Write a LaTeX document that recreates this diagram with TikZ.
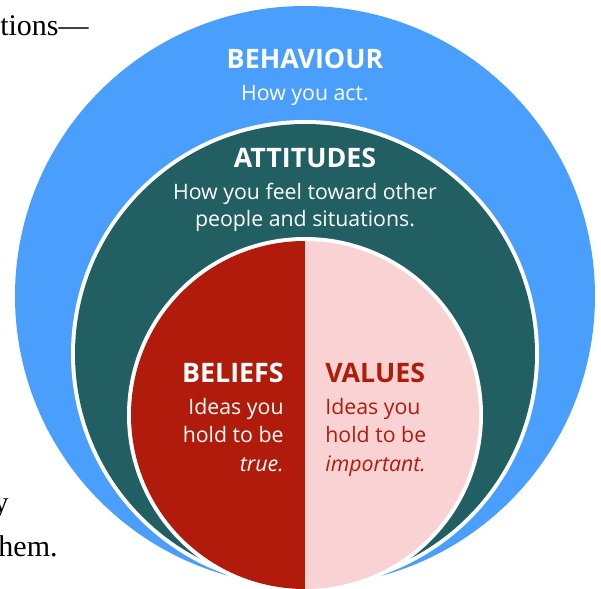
\documentclass[tikz,border=0pt]{standalone}
\usepackage{fontspec}
\usepackage{tkz-euclide}
\setmainfont{Open Sans}
\newfontfamily\bookfont[Ligatures=TeX]{Liberation Serif}
\definecolor{behavblue}{HTML}{4A9EFC}
\definecolor{attteal}{HTML}{215F63}
\definecolor{belred}{HTML}{B01B0B}
\definecolor{valpink}{HTML}{F9D3D3}
\begin{document}
\begin{tikzpicture}[x=0.5pt,y=0.5pt,
    head/.style={font=\bfseries\fontsize{13.4}{16}\selectfont,inner sep=0pt},
    body/.style={font=\fontsize{10.65}{14}\selectfont,inner sep=0pt},
    book/.style={font=\bookfont\fontsize{15}{18}\selectfont,inner sep=0pt,anchor=base east}]
                \useasboundingbox (0,0) rectangle (601,589);
                \clip (0,0) rectangle (601,589);
                \tkzDefPoints{305/293/B,305/235/A,305/174/I}
                % the three rings
                \fill[behavblue] (B) circle (290);
                \fill[white] (A) circle (234);
                \fill[attteal] (A) circle (230);
                \fill[white] (I) circle (178);
                \fill[belred] (I) ++(0,-174) arc (270:90:174) -- cycle;
                \fill[valpink] (I) ++(0,-174) arc (-90:90:174) -- cycle;
                % outer ring text
                \node[head,text=white,anchor=base] (behav) at (305,520) {BEHAVIOUR};
                \node[body,text=white,anchor=base] (behav1) at (305,488) {How you act.};
                \node[head,text=white,anchor=base] (attit) at (305,421) {ATTITUDES};
                \node[body,text=white,anchor=base] (attit1) at (305,389) {How you feel toward other};
                \node[body,text=white,anchor=base] (attit2) at (305,362) {people and situations.};
                % inner halves
                \node[head,text=white,anchor=base east] (belief) at (284,206) {BELIEFS};
                \node[body,text=white,anchor=base east] (belief1) at (284,174) {Ideas you};
                \node[body,text=white,anchor=base east] (belief2) at (284,146) {hold to be};
                \node[body,text=white,anchor=base east] (belief3) at (284,117) {\itshape true.};
                \node[head,text=belred,anchor=base west] (value) at (325,206) {VALUES};
                \node[body,text=belred,anchor=base west] (value1) at (325,174) {Ideas you};
                \node[body,text=belred,anchor=base west] (value2) at (325,146) {hold to be};
                \node[body,text=belred,anchor=base west] (value3) at (325,117) {\itshape important.};
                % running text cut by the frame
                \node[book] (run1) at (89,553) {tions---};
                \node[book] (run2) at (9,76) {y};
                \node[book] (run3) at (58,32) {hem.};
            \end{tikzpicture}
\end{document}
